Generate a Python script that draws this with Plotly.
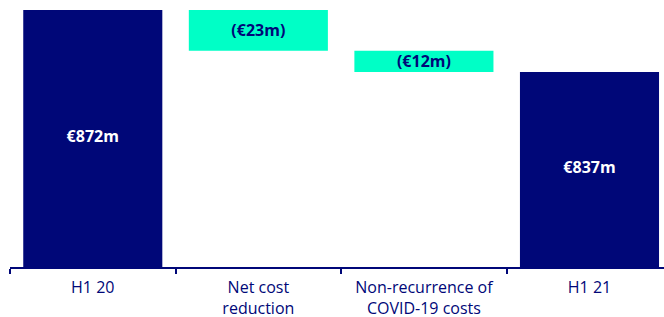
import plotly.graph_objects as go

categories = ["H1 20", "Net cost<br>reduction", "Non-recurrence of<br>COVID-19 costs", "H1 21"]
values = [872, -23, -12, 837]
measures = ["absolute", "relative", "relative", "total"]
labels = ["€872m", "(€23m)", "(€12m)", "€837m"]

NAVY = "#000778"
CYAN = "#00FFC6"
Y_RANGE = [727, 877.6]

fig = go.Figure()
fig.add_trace(go.Waterfall(
    x=categories,
    y=values,
    measure=measures,
    text=[t if m == "relative" else "" for t, m in zip(labels, measures)],
    texttemplate="<b>%{text}</b>",
    textposition="inside",
    insidetextanchor="middle",
    constraintext="none",
    textfont=dict(family="Open Sans", size=16, color=NAVY),
    totals=dict(marker=dict(color=NAVY)),
    decreasing=dict(marker=dict(color=CYAN)),
    increasing=dict(marker=dict(color=NAVY)),
    connector=dict(visible=False),
    width=0.84,
    hoverinfo="skip",
))

# labels for the total bars, centred in their visible part
tot_x = [c for c, m in zip(categories, measures) if m != "relative"]
tot_y = [(Y_RANGE[0] + v) / 2 for v, m in zip(values, measures) if m != "relative"]
tot_t = [f"<b>{t}</b>" for t, m in zip(labels, measures) if m != "relative"]
fig.add_trace(go.Scatter(
    x=tot_x, y=tot_y, text=tot_t, mode="text",
    textfont=dict(family="Open Sans", size=16, color="white"),
    hoverinfo="skip",
))

fig.update_layout(
    width=664, height=317,
    margin=dict(l=10, r=0, t=0, b=50),
    plot_bgcolor="white", paper_bgcolor="white",
    showlegend=False,
    font=dict(family="Open Sans", size=16, color=NAVY),
    xaxis=dict(
        range=[-0.5, 3.45],
        tickson="boundaries",
        automargin=False,
        ticks="outside", ticklen=5, tickwidth=1.5, tickcolor=NAVY,
        showline=True, linecolor=NAVY, linewidth=1.5,
        showgrid=False, zeroline=False,
        ticklabelstandoff=5,
        tickfont=dict(family="Open Sans", size=16, color=NAVY),
    ),
    xaxis2=dict(
        overlaying="x", anchor="y", side="bottom", type="linear",
        range=[-0.5, 3.45],
        automargin=False,
        tickvals=[-0.5, 0.5, 1.5, 2.5, 3.5],
        ticks="inside", ticklen=5, tickwidth=1.5, tickcolor=NAVY,
        showticklabels=False, showgrid=False, zeroline=False, showline=False,
    ),
    yaxis=dict(range=Y_RANGE, visible=False, showgrid=False, zeroline=False,
               automargin=False),
)

fig.write_html(
    "out.html",
    config={"displayModeBar": False},
    post_script="document.body.style.margin='0';document.body.style.overflow='hidden';",
)
